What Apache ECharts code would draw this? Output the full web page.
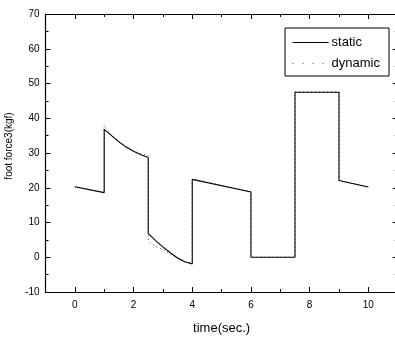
<!DOCTYPE html>
<html>
<head>
<meta charset="utf-8">
<script src="https://cdn.jsdelivr.net/npm/echarts@6/dist/echarts.min.js"></script>
<style>
html,body{margin:0;padding:0;background:#fff;}
#chart{width:395px;height:338px;}
</style>
</head>
<body>
<div id="chart"></div>
<script>
// time (s) and foot force values
var staticT = [0, 1, 1, 1.25, 1.5, 1.75, 2, 2.25, 2.5, 2.5, 2.75, 3, 3.25, 3.5, 3.75, 4, 4, 6, 6, 7.5, 7.5, 9, 9, 10];
var staticV = [20.3, 18.6, 36.8, 35.0, 33.2, 31.7, 30.5, 29.5, 28.7, 6.9, 4.8, 3.0, 1.3, -0.2, -1.3, -1.9, 22.4, 18.8, 0, 0, 47.5, 47.5, 22.1, 20.2];
var dynamicT = [0, 1, 1, 1.1, 1.25, 1.5, 1.75, 2, 2.25, 2.5, 2.5, 2.75, 3, 3.25, 3.5, 3.75, 4, 4, 6, 6, 7.5, 7.5, 9, 9, 10];
var dynamicV = [20.3, 18.6, 38.0, 36.5, 35.2, 33.4, 31.9, 30.6, 29.8, 29.3, 4.5, 3.2, 2.2, 1.0, -0.3, -1.3, -1.9, 22.5, 18.9, 0, 0, 47.6, 47.6, 22.1, 20.2];
var xMajor = [0, 2, 4, 6, 8, 10];
var xMinor = [1, 3, 5, 7, 9];
var seriesNames = ['static', 'dynamic'];

function pairs(t, v) { return t.map(function (x, i) { return [x, v[i]]; }); }

var FONT = 'Liberation Sans, Arial, sans-serif';
var black = '#000';

function xAx(pos, ticks, len, showLine, showLabel) {
  return {
    type: 'value', position: pos, min: -1, max: 11,
    axisLine: { show: showLine, onZero: false, lineStyle: { color: black, width: 1.2 } },
    axisTick: { show: true, inside: true, length: len, customValues: ticks, lineStyle: { color: black } },
    axisLabel: { show: showLabel, customValues: xMajor, color: black, fontSize: 10, fontFamily: FONT, margin: 8 },
    splitLine: { show: false }
  };
}

var chart = echarts.init(document.getElementById('chart'), null, { renderer: 'canvas' });
var xAxes = [
  xAx('bottom', xMajor, 5, true, true),
  xAx('bottom', xMinor, 3, false, false),
  xAx('top', xMajor, 5, true, false),
  xAx('top', xMinor, 3, false, false)
];
xAxes[0].name = 'time(sec.)';
xAxes[0].nameLocation = 'middle';
xAxes[0].nameGap = 30;
xAxes[0].nameTextStyle = { color: black, fontSize: 13, fontFamily: FONT };

function yAx(pos, showLabel) {
  return {
    type: 'value', position: pos, min: -10, max: 70, interval: 10,
    axisLine: { show: true, onZero: false, lineStyle: { color: black, width: 1.2 } },
    axisTick: { show: true, inside: true, length: 5, lineStyle: { color: black } },
    minorTick: { show: true, splitNumber: 2, length: 3, lineStyle: { color: black } },
    axisLabel: { show: showLabel, color: black, fontSize: 10, fontFamily: FONT, margin: 6 },
    splitLine: { show: false }
  };
}
var yAxes = [yAx('left', true), yAx('right', false)];
yAxes[0].name = 'foot force3(kgf)';
yAxes[0].nameLocation = 'middle';
yAxes[0].nameGap = 24;
yAxes[0].nameTextStyle = { color: black, fontSize: 10, fontFamily: FONT, padding: [0, 0, 0, 14] };

chart.setOption({
  animation: false,
  backgroundColor: '#fff',
  grid: { left: 45.5, right: -2.7, top: 14, bottom: 46, containLabel: false, outerBoundsMode: 'none' },
  xAxis: xAxes,
  yAxis: yAxes,
  legend: {
    data: [
      { name: seriesNames[0] },
      { name: seriesNames[1], lineStyle: { type: [1, 9], width: 1.2 } }
    ],
    orient: 'vertical',
    left: 285, top: 28,
    padding: [8, 9, 6, 7],
    itemWidth: 36, itemHeight: 14, itemGap: 8,
    borderColor: black, borderWidth: 1,
    itemStyle: { opacity: 0 },
    lineStyle: { width: 1 },
    textStyle: { color: black, fontSize: 13, fontFamily: FONT, padding: [0, 0, 0, -2] }
  },
  series: [
    {
      name: seriesNames[1], type: 'line', xAxisIndex: 0, yAxisIndex: 0,
      data: pairs(dynamicT, dynamicV), symbol: 'none', showSymbol: false,
      lineStyle: { color: '#555', width: 1, type: [1, 3] },
      itemStyle: { color: '#555' }, z: 2
    },
    {
      name: seriesNames[0], type: 'line', xAxisIndex: 0, yAxisIndex: 0,
      data: pairs(staticT, staticV), symbol: 'none', showSymbol: false,
      lineStyle: { color: black, width: 1.1 },
      itemStyle: { color: black }, z: 3
    }
  ]
});
</script>
</body>
</html>
